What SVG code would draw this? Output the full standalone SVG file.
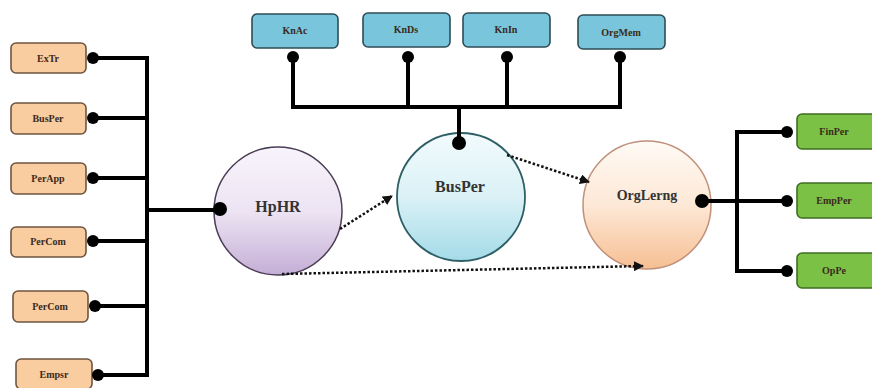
<svg xmlns="http://www.w3.org/2000/svg" width="872" height="388" viewBox="0 0 872 388">
<style>
.bx{stroke-width:1.6}
.lbox{fill:#f9cd9f;stroke:#6e5540}
.tbox{fill:#79c6dc;stroke:#2e4c56}
.rbox{fill:#7bc145;stroke:#3f6e22}
.t{font-family:"Liberation Serif",serif;font-weight:bold;fill:#3a2a20;text-anchor:middle}
.s{font-size:10px}
.c{font-size:16px;fill:#333}
.ln{fill:none;stroke:#000;stroke-width:4}
.dot{fill:#000}
.dash{fill:none;stroke:#111;stroke-width:2.5;stroke-dasharray:2.5 2}
</style>
<defs>
<linearGradient id="gH" x1="0" y1="0" x2="0" y2="1"><stop offset="0" stop-color="#f8f4fb"/><stop offset="0.5" stop-color="#ede4f3"/><stop offset="1" stop-color="#c4aed6"/></linearGradient>
<linearGradient id="gB" x1="0" y1="0" x2="0" y2="1"><stop offset="0" stop-color="#f2fbfd"/><stop offset="0.5" stop-color="#daf1f6"/><stop offset="1" stop-color="#a3dbe8"/></linearGradient>
<linearGradient id="gO" x1="0" y1="0" x2="0" y2="1"><stop offset="0" stop-color="#fffaf5"/><stop offset="0.5" stop-color="#fde8d6"/><stop offset="1" stop-color="#f6bf93"/></linearGradient>
<marker id="ah" viewBox="0 0 10 10" refX="9" refY="5" markerWidth="4" markerHeight="4" orient="auto"><path d="M0,0 L10,5 L0,10 z" fill="#111"/></marker>
</defs>
<g id="ExTr"><rect class="lbox bx" x="11" y="43" width="75" height="30" rx="5"/><text class="t s" x="48" y="62">ExTr</text></g>
<g id="BusPerL"><rect class="lbox bx" x="11" y="103" width="75" height="31" rx="5"/><text class="t s" x="48" y="122">BusPer</text></g>
<g id="PerApp"><rect class="lbox bx" x="11" y="163" width="75" height="31" rx="5"/><text class="t s" x="48" y="182">PerApp</text></g>
<g id="PerCom1"><rect class="lbox bx" x="11" y="227" width="75" height="30" rx="5"/><text class="t s" x="48" y="245">PerCom</text></g>
<g id="PerCom2"><rect class="lbox bx" x="13" y="291" width="75" height="31" rx="5"/><text class="t s" x="50" y="310">PerCom</text></g>
<g id="Empsr"><rect class="lbox bx" x="16" y="359" width="76" height="30" rx="5"/><text class="t s" x="54" y="378">Empsr</text></g>
<g id="KnAc"><rect class="tbox bx" x="252" y="14" width="86" height="34" rx="5"/><text class="t s" x="295" y="34">KnAc</text></g>
<g id="KnDs"><rect class="tbox bx" x="363" y="13" width="87" height="34" rx="5"/><text class="t s" x="406" y="33">KnDs</text></g>
<g id="KnIn"><rect class="tbox bx" x="463" y="13" width="87" height="34" rx="5"/><text class="t s" x="506" y="33">KnIn</text></g>
<g id="OrgMem"><rect class="tbox bx" x="578" y="15" width="87" height="34" rx="5"/><text class="t s" x="621" y="36">OrgMem</text></g>
<g id="FinPer"><rect class="rbox bx" x="797" y="114" width="80" height="35" rx="5"/><text class="t s" x="834" y="135">FinPer</text></g>
<g id="EmpPer"><rect class="rbox bx" x="797" y="183" width="80" height="35" rx="5"/><text class="t s" x="834" y="204">EmpPer</text></g>
<g id="OpPe"><rect class="rbox bx" x="797" y="253" width="80" height="35" rx="5"/><text class="t s" x="834" y="274">OpPe</text></g>
<g id="HpHR"><circle cx="278" cy="211" r="64" fill="url(#gH)" stroke="#4a3d55" stroke-width="1.5"/><text class="t c" x="278" y="212">HpHR</text></g>
<g id="BusPer"><circle cx="461" cy="197" r="64" fill="url(#gB)" stroke="#2f5f66" stroke-width="1.8"/><text class="t c" x="460" y="192">BusPer</text></g>
<g id="OrgLerng"><circle cx="647" cy="205" r="64" fill="url(#gO)" stroke="#c0907a" stroke-width="1.5"/><text class="t c" x="647" y="200" style="font-size:14px">OrgLerng</text></g>
<g id="connectors">
<path class="ln" d="M93,58 H147 V375 H97 M93,118 H147 M93,178 H147 M93,241 H147 M95,306 H147 M147,210 H220"/>
<path class="ln" d="M293,57 V107 H620 V57 M408,57 V107 M507,57 V107 M459,107 V143"/>
<path class="ln" d="M700,201 H737 M787,132 H737 V271 H787 M737,201 H787"/>
<circle class="dot" cx="93" cy="58" r="6"/>
<circle class="dot" cx="93" cy="118" r="6"/>
<circle class="dot" cx="93" cy="178" r="6"/>
<circle class="dot" cx="93" cy="241" r="6"/>
<circle class="dot" cx="95" cy="306" r="6"/>
<circle class="dot" cx="98" cy="375" r="6"/>
<circle class="dot" cx="293" cy="57" r="6"/>
<circle class="dot" cx="408" cy="57" r="6"/>
<circle class="dot" cx="507" cy="57" r="6"/>
<circle class="dot" cx="620" cy="57" r="6"/>
<circle class="dot" cx="787" cy="132" r="6"/>
<circle class="dot" cx="787" cy="201" r="6"/>
<circle class="dot" cx="787" cy="271" r="6"/>
<circle class="dot" cx="220" cy="209" r="7"/>
<circle class="dot" cx="459" cy="143" r="7"/>
<circle class="dot" cx="702" cy="201" r="7"/>
<path class="dash" d="M340,229 L392,196" marker-end="url(#ah)"/>
<path class="dash" d="M507,155 L589,182" marker-end="url(#ah)"/>
<path class="dash" d="M282,274 L643,266" marker-end="url(#ah)"/>
</g>
</svg>
